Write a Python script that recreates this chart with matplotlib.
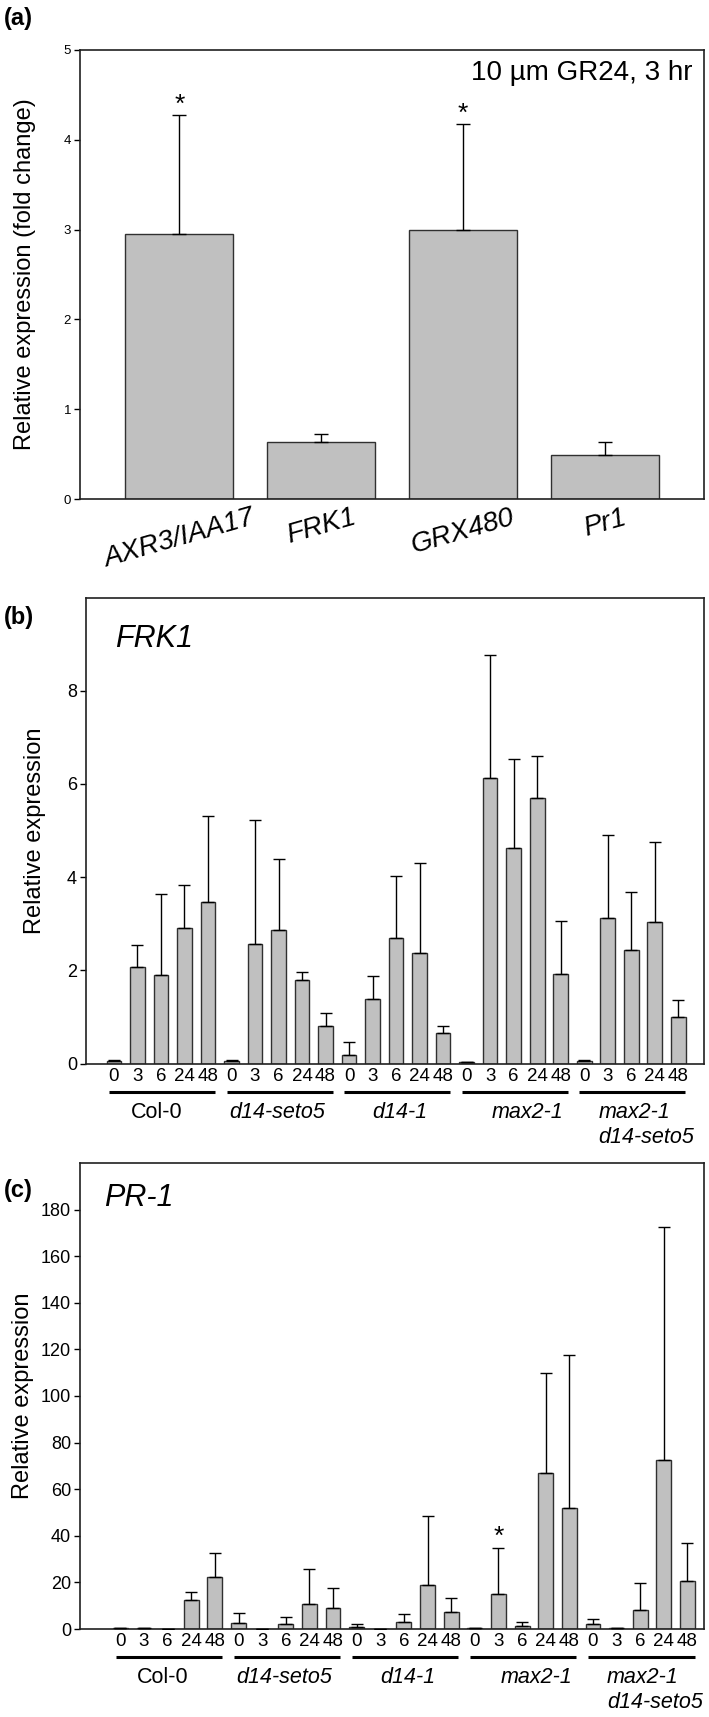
import numpy as np
import matplotlib.pyplot as plt
from matplotlib.transforms import blended_transform_factory

plt.rcParams['font.family'] = ['Liberation Sans', 'DejaVu Sans']

# (a) GR24 response, 3 hr
genes_a = ['AXR3/IAA17', 'FRK1', 'GRX480', 'Pr1']
fold_a = [2.95, 0.64, 3.00, 0.49]
err_a = [1.33, 0.08, 1.18, 0.14]
stars_a = [0, 2]

# (b), (c) time courses
genotypes = ['Col-0', 'd14-seto5', 'd14-1', 'max2-1', 'max2-1\nd14-seto5']
hours = ['0', '3', '6', '24', '48']

frk1_mean = [0.05, 2.08, 1.90, 2.90, 3.46,
             0.05, 2.57, 2.86, 1.79, 0.80,
             0.18, 1.39, 2.70, 2.38, 0.65,
             0.04, 6.13, 4.62, 5.69, 1.92,
             0.06, 3.13, 2.44, 3.03, 1.01]
frk1_err = [0.02, 0.46, 1.74, 0.94, 1.86,
            0.02, 2.65, 1.53, 0.18, 0.29,
            0.28, 0.49, 1.32, 1.92, 0.16,
            0.00, 2.64, 1.91, 0.90, 1.13,
            0.01, 1.77, 1.25, 1.72, 0.35]

pr1_mean = [0.3, 0.5, 0.2, 12.4, 22.5,
            2.6, 0.2, 2.3, 10.6, 8.8,
            1.0, 0.1, 2.9, 18.9, 7.4,
            0.5, 15.2, 1.5, 66.8, 51.8,
            2.1, 0.3, 8.0, 72.7, 20.6]
pr1_err = [0.0, 0.0, 0.0, 3.6, 10.0,
           4.1, 0.0, 2.9, 15.2, 9.0,
           1.1, 0.0, 3.5, 29.8, 5.7,
           0.0, 19.6, 1.4, 43.0, 65.6,
           2.3, 0.0, 11.9, 99.9, 16.5]
stars_c = [16]

BAR = '#c0c0c0'
EDGE = '#303030'

W, H = 709, 1717
fig = plt.figure(figsize=(W / 100, H / 100), dpi=100)


def box(left, top, right, bottom):
    return fig.add_axes([left / W, 1 - bottom / H, (right - left) / W, (bottom - top) / H])


def style(ax, size):
    for s in ax.spines.values():
        s.set_linewidth(1.2)
        s.set_color('#202020')
    ax.tick_params(axis='y', direction='out', length=4.5, width=1, labelsize=size, pad=2)


# ---- (a) ----
ax = box(80, 50, 704, 499)
xa = np.arange(len(genes_a))
ax.bar(xa, fold_a, width=0.76, color=BAR, edgecolor=EDGE, linewidth=1, zorder=2)
ax.errorbar(xa, fold_a, yerr=[np.zeros(len(xa)), err_a], fmt='none',
            ecolor='black', elinewidth=1, capsize=5, capthick=1, zorder=3)
for i in stars_a:
    ax.annotate('*', (xa[i], fold_a[i] + err_a[i]), xytext=(0, 7), textcoords='offset points',
                ha='center', va='center', fontsize=19)
ax.set_xlim(-0.70, 3.70)
ax.set_ylim(0, 5)
ax.set_yticks(range(6))
style(ax, 9.5)
ax.set_xticks(xa)
ax.set_xticklabels(genes_a, rotation=16, fontstyle='italic', fontsize=20, ha='center')
ax.tick_params(axis='x', length=0, pad=4)
ax.set_ylabel('Relative expression (fold change)', fontsize=17)
ax.yaxis.set_label_coords(-0.07, 0.5)
ax.text(0.982, 0.949, '10 \u00b5m GR24, 3 hr', transform=ax.transAxes,
        ha='right', va='center', fontsize=20)
fig.text(4 / W, 1 - 18 / H, '(a)', fontsize=17, fontweight='bold', va='center')


def time_course(ax, means, errs, ymax, step, gene, gene_xy, stars):
    x = np.arange(len(means))
    ax.bar(x, means, width=0.63, color=BAR, edgecolor=EDGE, linewidth=1, zorder=2)
    ax.errorbar(x, means, yerr=[np.zeros(len(x)), errs], fmt='none',
                ecolor='black', elinewidth=1, capsize=4, capthick=1, zorder=3)
    for i in stars:
        ax.annotate('*', (x[i], means[i] + errs[i]), xytext=(0, 8), textcoords='offset points',
                    ha='center', va='center', fontsize=19)
    ax.set_ylim(0, ymax)
    ax.set_yticks(np.arange(0, ymax, step))
    style(ax, 13)
    ax.set_xticks(x)
    ax.set_xticklabels(hours * len(genotypes), fontsize=13.5)
    ax.tick_params(axis='x', length=0, pad=3)
    ax.set_ylabel('Relative expression', fontsize=17)
    ax.text(gene_xy[0], gene_xy[1], gene, transform=ax.transAxes, fontsize=22,
            fontstyle='italic', ha='left', va='center')
    tr = blended_transform_factory(ax.transData, ax.transAxes)
    name_dx = [1.8, 1.95, 2.15, 2.6, 0.6]
    for g, name in enumerate(genotypes):
        x0 = g * len(hours)
        ax.plot([x0 - 0.2, x0 + 4.3], [-0.060, -0.060], color='black', lw=2.2,
                transform=tr, clip_on=False, solid_capstyle='butt')
        style_g = 'normal' if name == 'Col-0' else 'italic'
        lines = name.split('\n')
        if len(lines) == 1:
            ax.text(x0 + name_dx[g], -0.104, name, transform=tr, ha='center', va='center',
                    fontsize=15.5, fontstyle=style_g)
        else:
            for k, part in enumerate(lines):
                ax.text(x0 + name_dx[g], -0.104 - 0.054 * k, part, transform=tr, ha='left',
                        va='center', fontsize=15.5, fontstyle=style_g)


# ---- (b) ----
ax = box(86, 597.5, 704, 1063.6)
time_course(ax, frk1_mean, frk1_err, 10, 2, 'FRK1', (0.047, 0.911), [])
ax.set_xlim(-1.19, 25.1)
ax.yaxis.set_label_coords(-0.065, 0.5)
fig.text(4 / W, 1 - 617 / H, '(b)', fontsize=17, fontweight='bold', va='center')

# ---- (c) ----
ax = box(80, 1163, 704, 1629)
time_course(ax, pr1_mean, pr1_err, 200, 20, 'PR-1', (0.038, 0.925), stars_c)
ax.set_xlim(-1.71, 24.7)
ax.yaxis.set_label_coords(-0.074, 0.5)
fig.text(4 / W, 1 - 1190 / H, '(c)', fontsize=17, fontweight='bold', va='center')

fig.savefig('out.png', dpi=100)
